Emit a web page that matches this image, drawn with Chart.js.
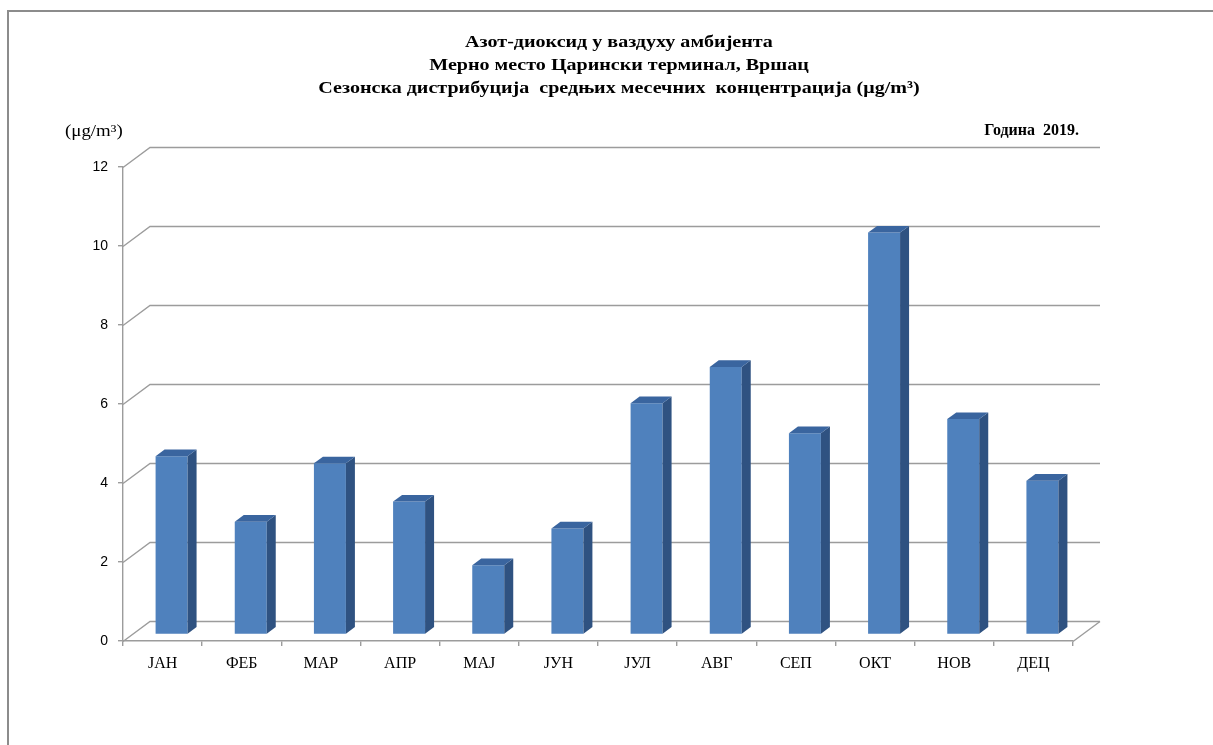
<!DOCTYPE html>
<html><head><meta charset="utf-8">
<script src="https://cdn.jsdelivr.net/npm/chart.js@4.4.1/dist/chart.umd.min.js"></script>
<style>
html,body{margin:0;padding:0;background:#fff;overflow:hidden}
#wrap{position:relative;width:1213px;height:745px}
#frame{position:absolute;left:7px;top:10px;width:1220px;height:760px;border-left:2px solid #8c8c8c;border-top:2px solid #8c8c8c;pointer-events:none}
canvas{position:absolute;left:0;top:0}
</style></head><body>
<div id="wrap"><canvas id="c" width="1213" height="745"></canvas><div id="frame"></div></div>
<script>
// ---- data ----
const months = ['ЈАН','ФЕБ','МАР','АПР','МАЈ','ЈУН','ЈУЛ','АВГ','СЕП','ОКТ','НОВ','ДЕЦ'];
const no2Values = [4.51, 2.85, 4.33, 3.36, 1.75, 2.68, 5.85, 6.77, 5.09, 10.17, 5.45, 3.89];
const yMin = 0, yMax = 12, yStep = 2;
const titleLines = [
  'Азот-диоксид у ваздуху амбијента',
  'Мерно место Царински терминал, Вршац',
  'Сезонска дистрибуција  средњих месечних  концентрација (μg/m³)'
];
const unitLabel = '(μg/m³)';
const yearLabel = 'Година  2019.';

// ---- style ----
const WALL_DX = 27, WALL_DY = -20;
const BAR_FRONT = 1/3, BAR_DEPTH = 1/3;
const gridColor = '#9c9c9c';
const frontColor = '#4f81bd', sideColor = '#2f5281', topColor = '#3a659f';
const TEXT_STRETCH = 1.18;

function stretchedText(ctx, text, x, y, sx) {
  ctx.save();
  ctx.translate(x, y);
  ctx.scale(sx, 1);
  ctx.fillText(text, 0, 0);
  ctx.restore();
}

const box3d = {
  id: 'box3d',
  beforeDatasetsDraw(chart) {
    const {ctx, scales: {x, y}} = chart;
    const L = x.left, R = x.right;
    ctx.save();
    ctx.strokeStyle = gridColor; ctx.lineWidth = 1.4;
    y.ticks.forEach(t => {
      const py = Math.round(y.getPixelForValue(t.value)) + 0.5;
      ctx.beginPath();
      ctx.moveTo(L, py);
      ctx.lineTo(L + WALL_DX, py + WALL_DY);
      ctx.lineTo(R + WALL_DX, py + WALL_DY);
      ctx.stroke();
    });
    const p0 = Math.round(y.getPixelForValue(yMin)) + 0.5;
    ctx.beginPath(); ctx.moveTo(R, p0); ctx.lineTo(R + WALL_DX, p0 + WALL_DY); ctx.stroke();
    ctx.restore();
  },
  beforeDatasetDraw(chart) {
    chart.ctx.save();
    chart.ctx.translate(WALL_DX * BAR_FRONT, WALL_DY * BAR_FRONT);
  },
  afterDatasetDraw(chart, args) {
    const ctx = chart.ctx;
    const dx = WALL_DX * BAR_DEPTH, dy = WALL_DY * BAR_DEPTH;
    args.meta.data.forEach(bar => {
      const {x, y, base, width} = bar.getProps(['x', 'y', 'base', 'width'], true);
      const l = x - width / 2, r = x + width / 2;
      ctx.fillStyle = sideColor;
      ctx.beginPath();
      ctx.moveTo(r, y); ctx.lineTo(r + dx, y + dy); ctx.lineTo(r + dx, base + dy); ctx.lineTo(r, base);
      ctx.closePath(); ctx.fill();
      ctx.fillStyle = topColor;
      ctx.beginPath();
      ctx.moveTo(l, y); ctx.lineTo(l + dx, y + dy); ctx.lineTo(r + dx, y + dy); ctx.lineTo(r, y);
      ctx.closePath(); ctx.fill();
    });
    ctx.restore();
  },
  afterDraw(chart) {
    const ctx = chart.ctx;
    ctx.save();
    ctx.fillStyle = '#000';
    ctx.textBaseline = 'middle';
    ctx.textAlign = 'center';
    ctx.font = 'bold 17px "Liberation Serif"';
    titleLines.forEach((t, i) => stretchedText(ctx, t, 619, 43 + i * 23, TEXT_STRETCH));
    ctx.font = '16px "Liberation Serif"';
    ctx.textAlign = 'left';
    stretchedText(ctx, unitLabel, 65, 132, TEXT_STRETCH);
    ctx.font = 'bold 16px "Liberation Serif"';
    ctx.textAlign = 'right';
    stretchedText(ctx, yearLabel, 1079, 131, 1.0);
    ctx.restore();
  }
};

new Chart(document.getElementById('c'), {
  type: 'bar',
  data: {
    labels: months,
    datasets: [{
      data: no2Values,
      backgroundColor: frontColor,
      borderWidth: 0,
      barPercentage: 0.404,
      categoryPercentage: 1.0,
      clip: false
    }]
  },
  options: {
    responsive: false,
    animation: false,
    devicePixelRatio: 1,
    layout: {padding: {left: 0, right: 140, top: 167, bottom: 0}},
    plugins: {legend: {display: false}, title: {display: false}, tooltip: {enabled: false}},
    scales: {
      x: {
        afterFit(s) { s.height = 104; },
        grid: {offset: true, drawOnChartArea: false, tickLength: 5, color: gridColor, lineWidth: 1.4},
        border: {color: gridColor, width: 1.4},
        ticks: {color: '#000', padding: 8, font: {family: '"Liberation Serif"', size: 16}}
      },
      y: {
        min: yMin, max: yMax,
        afterFit(s) { s.width = 123; },
        grid: {drawOnChartArea: false, tickLength: 5, color: gridColor, lineWidth: 1.4},
        border: {color: gridColor, width: 1.4},
        ticks: {stepSize: yStep, color: '#000', padding: 10, font: {family: '"Liberation Sans"', size: 14}}
      }
    }
  },
  plugins: [box3d]
});
</script>
</body></html>
